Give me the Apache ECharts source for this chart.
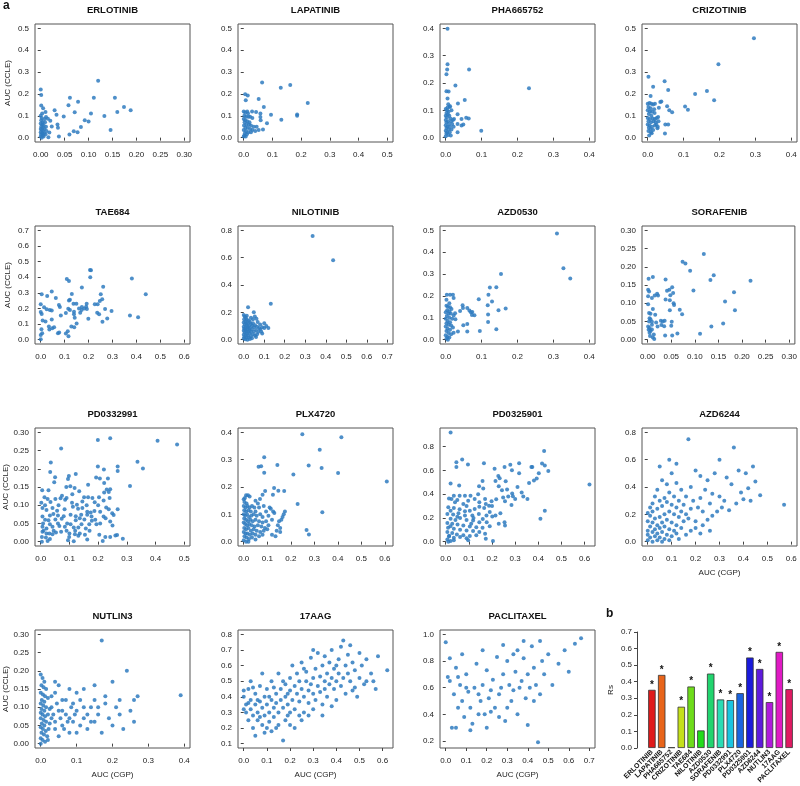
<!DOCTYPE html>
<html><head><meta charset="utf-8">
<script src="https://cdn.jsdelivr.net/npm/echarts@6/dist/echarts.min.js"></script>
<style>html,body{margin:0;padding:0;background:#fff}#c{width:800px;height:786px}</style>
</head><body><div id="c"></div>
<script>
// ---------------- DATA ----------------
const drugNames = ['ERLOTINIB','LAPATINIB','PHA665752','CRIZOTINIB','TAE684','NILOTINIB','AZD0530','SORAFENIB','PD0332991','PLX4720','PD0325901','AZD6244','NUTLIN3','17AAG','PACLITAXEL'];

// Panel b: Spearman Rs per drug and significance
const rsValues = [0.351,0.441,0.004,0.249,0.371,0.106,0.449,0.293,0.289,0.331,0.546,0.477,0.277,0.580,0.355];
const rsSignificant = [1,1,0,1,1,0,1,1,1,1,1,1,1,1,1];

// tick label sets
const ticks030 = [0,0.05,0.10,0.15,0.20,0.25,0.30];
const ticks04 = [0,0.1,0.2,0.3,0.4];
const ticks05 = [0,0.1,0.2,0.3,0.4,0.5];
const ticks06 = [0,0.1,0.2,0.3,0.4,0.5,0.6];
const ticks07 = [0,0.1,0.2,0.3,0.4,0.5,0.6,0.7];
const ticks08 = [0,0.2,0.4,0.6,0.8];
const ticks17aagY = [0.1,0.2,0.3,0.4,0.5,0.6,0.7,0.8];
const ticksPacY = [0.2,0.4,0.6,0.8,1.0];
const ticksRs = [0,0.1,0.2,0.3,0.4,0.5,0.6,0.7];

// Panel a: [AUC (CGP), AUC (CCLE)] pairs
const erlotinib = [[0,0.22],[0.001,0.195],[0.12,0.26],[0.061,0.182],[0.078,0.164],[0.111,0.182],[0.155,0.182],[0.174,0.14],[0.188,0.125],[0.16,0.117],[0.058,0.148],[0.029,0.125],[0.033,0.105],[0.048,0.097],[0.071,0.116],[0.105,0.11],[0.133,0.099],[0.01,0.117],[0.011,0.094],[0.015,0.086],[0.02,0.077],[0.023,0.051],[0.035,0.06],[0.036,0.045],[0.092,0.079],[0.1,0.074],[0.084,0.049],[0.069,0.029],[0.077,0.025],[0.06,0.014],[0.038,0.005],[0.146,0.035],[0.018,0.023],[0.016,0.002],
[0.0,0.10],[0.002,0.09],[0.001,0.08],[0.004,0.07],[0.0,0.065],[0.003,0.06],[0.006,0.055],[0.001,0.05],[0.004,0.045],[0.0,0.04],[0.008,0.04],[0.002,0.035],[0.005,0.03],[0.0,0.025],[0.003,0.02],[0.007,0.02],[0.001,0.015],[0.004,0.01],[0.0,0.005],[0.006,0.005],[0.002,0.0],[0.009,0.07],[0.011,0.05],[0.008,0.085],[0.012,0.03],[0.01,0.015],[0.003,0.11],[0.005,0.135],[0.001,0.147]];

const lapatinib = [[0.064,0.252],[0.129,0.228],[0.162,0.241],[0.005,0.199],[0.014,0.193],[0.007,0.171],[0.052,0.177],[0.223,0.159],[0.07,0.14],[0.186,0.106],[0.186,0.1],[0.095,0.105],[0.131,0.082],[0.081,0.066],[0.052,0.035],[0.067,0.037],[0.058,0.11],[0.058,0.094],[0.043,0.117],[0.029,0.12],[0.059,0.08],
[0.0,0.12],[0.005,0.115],[0.012,0.12],[0.015,0.11],[0.002,0.1],[0.008,0.095],[0.016,0.095],[0.022,0.095],[0.03,0.09],[0.0,0.085],[0.005,0.08],[0.012,0.075],[0.02,0.07],[0.003,0.07],[0.009,0.06],[0.018,0.06],[0.025,0.055],[0.035,0.05],[0.001,0.055],[0.006,0.045],[0.014,0.045],[0.022,0.04],[0.03,0.035],[0.0,0.035],[0.008,0.03],[0.016,0.025],[0.025,0.025],[0.004,0.02],[0.011,0.015],[0.002,0.01],[0.0,0.005],[0.007,0.005],[0.04,0.03],[0.045,0.05]];

const pha665752 = [[0.005,0.399],[0.005,0.269],[0.004,0.249],[0.002,0.232],[0.065,0.249],[0.232,0.181],[0.027,0.191],[0.002,0.17],[0.008,0.169],[0.053,0.138],[0.034,0.125],[0.033,0.086],[0.057,0.073],[0.064,0.07],[0.044,0.068],[0.023,0.068],[0.033,0.05],[0.044,0.044],[0.049,0.048],[0.033,0.02],[0.099,0.025],[0.016,0.1],[0.011,0.112],[0.007,0.122],[0.005,0.143],
[0.0,0.105],[0.004,0.1],[0.008,0.095],[0.002,0.09],[0.006,0.085],[0.0,0.08],[0.01,0.08],[0.003,0.075],[0.013,0.07],[0.0,0.065],[0.006,0.06],[0.015,0.06],[0.002,0.055],[0.009,0.05],[0.018,0.05],[0.0,0.045],[0.005,0.04],[0.012,0.04],[0.002,0.035],[0.008,0.03],[0.016,0.03],[0.0,0.025],[0.004,0.02],[0.011,0.02],[0.002,0.015],[0.007,0.01],[0.0,0.005],[0.014,0.008],[0.02,0.065],[0.022,0.04],[0.005,0.11],[0.012,0.115]];

const crizotinib = [[0.296,0.455],[0.197,0.336],[0.002,0.279],[0.047,0.258],[0.015,0.233],[0.057,0.218],[0.165,0.213],[0.132,0.2],[0.185,0.171],[0.038,0.165],[0.035,0.163],[0.008,0.19],[0.104,0.142],[0.112,0.128],[0.054,0.144],[0.06,0.125],[0.068,0.116],[0.031,0.137],[0.029,0.094],[0.019,0.113],[0.049,0.06],[0.057,0.06],[0.048,0.019],[0.027,0.043],
[0.0,0.155],[0.005,0.158],[0.01,0.155],[0.015,0.152],[0.02,0.155],[0.002,0.14],[0.008,0.135],[0.0,0.125],[0.006,0.12],[0.012,0.118],[0.018,0.13],[0.003,0.108],[0.01,0.1],[0.0,0.09],[0.006,0.085],[0.014,0.088],[0.02,0.085],[0.025,0.09],[0.002,0.075],[0.009,0.07],[0.016,0.075],[0.022,0.07],[0.03,0.075],[0.0,0.06],[0.005,0.055],[0.012,0.05],[0.02,0.055],[0.003,0.045],[0.008,0.04],[0.015,0.035],[0.002,0.03],[0.009,0.025],[0.004,0.01],[0.011,0.02],[0.024,0.06],[0.028,0.05]];

const tae684 = [[0.206,0.446],[0.21,0.444],[0.207,0.4],[0.109,0.388],[0.118,0.375],[0.381,0.392],[0.172,0.334],[0.261,0.338],[0.046,0.308],[0.004,0.291],[0.027,0.28],[0.063,0.267],[0.439,0.291],[0.251,0.291],[0.13,0.293],[0.118,0.25],[0.122,0.256],[0.137,0.23],[0.149,0.23],[0.192,0.23],[0.226,0.226],[0.247,0.248],[0.257,0.258],[0.238,0.226],[0.076,0.222],[0.08,0.209],[0.0,0.226],[0.014,0.207],[0.025,0.194],[0.038,0.19],[0.046,0.187],[0.0,0.177],[0.004,0.164],[0.115,0.198],[0.122,0.19],[0.139,0.179],[0.139,0.162],[0.171,0.19],[0.182,0.2],[0.193,0.196],[0.165,0.172],[0.172,0.209],[0.105,0.17],[0.084,0.155],[0.236,0.172],[0.244,0.162],[0.269,0.196],[0.296,0.183],[0.199,0.134],[0.278,0.136],[0.258,0.114],[0.373,0.155],[0.407,0.144],[0.046,0.129],[0.008,0.123],[0.02,0.116],[0.142,0.14],[0.034,0.084],[0.048,0.073],[0.056,0.08],[0.036,0.065],[0.003,0.067],[0.128,0.084],[0.14,0.08],[0.15,0.103],[0.072,0.041],[0.077,0.045],[0.105,0.039],[0.116,0.022],[0.0,0.03],[0.006,0.041],[0.0,0.002],[0.113,0.054],[0.19,0.21],[0.16,0.2]];

const nilotinib = [[0.336,0.758],[0.436,0.582],[0.132,0.262],[0.021,0.237],[0.049,0.2],
[0.0,0.18],[0.005,0.17],[0.01,0.16],[0.002,0.15],[0.015,0.145],[0.025,0.14],[0.008,0.135],[0.03,0.13],[0.0,0.125],[0.012,0.12],[0.02,0.12],[0.035,0.115],[0.045,0.12],[0.005,0.11],[0.015,0.105],[0.025,0.1],[0.04,0.1],[0.055,0.105],[0.0,0.095],[0.01,0.09],[0.02,0.09],[0.03,0.085],[0.05,0.09],[0.065,0.095],[0.075,0.085],[0.09,0.09],[0.1,0.085],[0.002,0.08],[0.008,0.075],[0.018,0.075],[0.028,0.07],[0.04,0.075],[0.06,0.07],[0.08,0.075],[0.0,0.065],[0.012,0.06],[0.022,0.06],[0.035,0.055],[0.05,0.06],[0.07,0.055],[0.005,0.05],[0.015,0.045],[0.028,0.045],[0.045,0.04],[0.065,0.04],[0.0,0.035],[0.01,0.03],[0.02,0.03],[0.035,0.025],[0.055,0.03],[0.003,0.02],[0.012,0.015],[0.025,0.015],[0.04,0.01],[0.0,0.008],[0.008,0.003],[0.018,0.0],[0.03,0.005],[0.06,0.02],[0.085,0.06],[0.1,0.12],[0.054,0.169],[0.062,0.152],[0.068,0.13],[0.045,0.15],[0.035,0.16],[0.015,0.175],[0.11,0.1],[0.12,0.085],[0.08,0.11],[0.09,0.045]];

const azd0530 = [[0.31,0.486],[0.328,0.327],[0.347,0.28],[0.154,0.3],[0.123,0.239],[0.141,0.24],[0.119,0.205],[0.129,0.174],[0.092,0.185],[0.117,0.157],[0.167,0.142],[0.147,0.135],[0.118,0.115],[0.118,0.081],[0.141,0.047],[0.095,0.04],[0.047,0.157],[0.048,0.145],[0.06,0.145],[0.066,0.133],[0.07,0.125],[0.074,0.127],[0.073,0.113],[0.08,0.112],[0.04,0.131],[0.026,0.121],[0.027,0.093],[0.049,0.066],[0.06,0.072],[0.06,0.037],[0.034,0.037],[0.022,0.032],[0.003,0.205],[0.012,0.205],[0.02,0.205],[0.022,0.191],[0.002,0.182],[0.01,0.167],
[0.002,0.155],[0.006,0.15],[0.012,0.148],[0.016,0.14],[0.004,0.135],[0.01,0.13],[0.0,0.125],[0.008,0.118],[0.014,0.12],[0.003,0.108],[0.01,0.1],[0.018,0.095],[0.0,0.095],[0.005,0.085],[0.012,0.08],[0.002,0.075],[0.008,0.068],[0.015,0.065],[0.0,0.06],[0.005,0.05],[0.012,0.045],[0.002,0.04],[0.008,0.03],[0.015,0.025],[0.0,0.02],[0.005,0.012],[0.01,0.01],[0.002,0.005],[0.006,0.0],[0.02,0.055],[0.022,0.11]];

const sorafenib = [[0.119,0.235],[0.074,0.214],[0.08,0.209],[0.09,0.189],[0.14,0.177],[0.133,0.164],[0.218,0.162],[0.002,0.167],[0.011,0.172],[0.038,0.165],[0.097,0.135],[0.052,0.144],[0.183,0.13],[0.164,0.105],[0.185,0.081],[0.16,0.044],[0.135,0.036],[0.111,0.016],[0.063,0.017],[0.052,0.011],[0.037,0.011],[0.001,0.137],[0.003,0.132],[0.001,0.119],[0.009,0.114],[0.015,0.121],[0.02,0.126],[0.022,0.121],[0.001,0.097],[0.038,0.11],[0.047,0.108],[0.041,0.134],[0.046,0.137],[0.054,0.128],[0.048,0.122],[0.055,0.1],[0.056,0.095],[0.047,0.081],[0.068,0.082],[0.073,0.07],[0.011,0.084],[0.003,0.073],[0.006,0.071],[0.004,0.059],[0.006,0.056],[0.016,0.068],[0.003,0.05],[0.009,0.049],[0.001,0.036],[0.009,0.041],[0.002,0.027],[0.006,0.024],[0.004,0.019],[0.009,0.028],[0.018,0.047],[0.021,0.036],[0.028,0.052],[0.032,0.05],[0.036,0.052],[0.029,0.04],[0.035,0.037],[0.051,0.049],[0.05,0.038],[0.005,0.01],[0.011,0.006],[0.014,0.002],[0.013,0.014],[0.004,0.032]];

const pd0332991 = [[0.199,0.279],[0.242,0.284],[0.407,0.277],[0.475,0.267],[0.071,0.256],[0.337,0.219],[0.356,0.201],[0.035,0.217],[0.199,0.206],[0.22,0.198],[0.268,0.206],[0.268,0.194],[0.033,0.191],[0.05,0.177],[0.098,0.18],[0.095,0.172],[0.122,0.186],[0.193,0.176],[0.206,0.173],[0.234,0.173],[0.047,0.163],[0.221,0.161],[0.311,0.153],[0.165,0.156],[0.005,0.141],[0.027,0.141],[0.089,0.15],[0.103,0.152],[0.118,0.147],[0.134,0.138],[0.23,0.143],[0.242,0.144],[0.237,0.136],[0.221,0.135],[0.151,0.122],[0.165,0.122],[0.203,0.122],[0.013,0.122],[0.024,0.117],[0.051,0.117],[0.069,0.119],[0.074,0.126],[0.085,0.115],[0.002,0.107],[0.034,0.109],[0.109,0.107],[0.126,0.101],[0.112,0.096],[0.188,0.108],[0.219,0.113],[0.228,0.094],[0.237,0.089],[0.268,0.089],[0.006,0.092],[0.041,0.092],[0.02,0.087],[0.057,0.085],[0.083,0.089],[0.145,0.092],[0.162,0.082],[0.174,0.08],[0.187,0.084],[0.006,0.069],[0.032,0.072],[0.044,0.076],[0.06,0.072],[0.104,0.074],[0.122,0.07],[0.141,0.074],[0.162,0.074],[0.177,0.069],[0.249,0.078],[0.254,0.073],[0.219,0.069],[0.207,0.082],[0.027,0.059],[0.051,0.061],[0.073,0.063],[0.122,0.059],[0.136,0.064],[0.152,0.061],[0.178,0.057],[0.226,0.064],[0.242,0.055],[0.008,0.05],[0.032,0.048],[0.065,0.043],[0.092,0.05],[0.104,0.048],[0.142,0.048],[0.169,0.048],[0.194,0.048],[0.207,0.05],[0.25,0.044],[0.006,0.041],[0.02,0.036],[0.041,0.041],[0.084,0.041],[0.115,0.039],[0.131,0.039],[0.157,0.036],[0.006,0.027],[0.02,0.022],[0.03,0.022],[0.041,0.02],[0.053,0.025],[0.071,0.027],[0.1,0.022],[0.119,0.02],[0.136,0.022],[0.154,0.019],[0.204,0.019],[0.225,0.013],[0.242,0.013],[0.26,0.017],[0.266,0.018],[0.286,0.008],[0.004,0.013],[0.018,0.011],[0.032,0.007],[0.095,0.004],[0.115,0.001],[0.162,0.006],[0.216,0.002],[0.004,0.0],[0.024,0.002],[0.099,0.013],[0.131,0.016],[0.015,0.06],[0.045,0.03],[0.062,0.1],[0.09,0.12],[0.11,0.13],[0.13,0.09],[0.145,0.11],[0.16,0.1],[0.18,0.12],[0.2,0.1],[0.015,0.1],[0.01,0.03],[0.06,0.05],[0.08,0.07],[0.09,0.03],[0.12,0.03],[0.17,0.03],[0.19,0.06],[0.24,0.12]];

const plx4720 = [[0.249,0.393],[0.415,0.382],[0.323,0.336],[0.087,0.309],[0.063,0.274],[0.074,0.276],[0.143,0.281],[0.276,0.279],[0.331,0.27],[0.087,0.252],[0.211,0.246],[0.401,0.251],[0.608,0.22],[0.129,0.196],[0.147,0.186],[0.172,0.185],[0.091,0.185],[0.08,0.172],[0.069,0.156],[0.124,0.172],[0.229,0.138],[0.334,0.108],[0.267,0.043],[0.277,0.026],
[0.0,0.155],[0.005,0.16],[0.01,0.17],[0.018,0.17],[0.025,0.165],[0.003,0.145],[0.012,0.14],[0.0,0.13],[0.008,0.125],[0.016,0.13],[0.025,0.125],[0.035,0.13],[0.045,0.125],[0.002,0.115],[0.01,0.11],[0.02,0.115],[0.03,0.11],[0.05,0.11],[0.065,0.125],[0.0,0.1],[0.006,0.095],[0.014,0.1],[0.022,0.09],[0.032,0.095],[0.042,0.1],[0.055,0.095],[0.07,0.1],[0.08,0.09],[0.002,0.085],[0.01,0.08],[0.018,0.075],[0.028,0.08],[0.038,0.075],[0.05,0.08],[0.065,0.075],[0.08,0.07],[0.095,0.075],[0.0,0.07],[0.006,0.065],[0.014,0.06],[0.024,0.065],[0.034,0.06],[0.046,0.055],[0.06,0.06],[0.075,0.055],[0.09,0.05],[0.105,0.06],[0.002,0.05],[0.01,0.045],[0.02,0.05],[0.03,0.04],[0.042,0.045],[0.055,0.04],[0.07,0.035],[0.085,0.04],[0.1,0.045],[0.0,0.035],[0.008,0.03],[0.016,0.03],[0.026,0.025],[0.038,0.03],[0.05,0.025],[0.065,0.02],[0.08,0.025],[0.003,0.02],[0.012,0.015],[0.022,0.01],[0.035,0.015],[0.05,0.008],[0.0,0.005],[0.01,0.0],[0.02,0.0],
[0.11,0.125],[0.115,0.12],[0.125,0.11],[0.13,0.105],[0.145,0.06],[0.15,0.075],[0.155,0.05],[0.16,0.08],[0.165,0.09],[0.17,0.1],[0.175,0.11],[0.14,0.04],[0.12,0.025],[0.135,0.02],[0.155,0.035],[0.12,0.08],[0.105,0.095],[0.095,0.11],[0.085,0.13],[0.06,0.14],[0.05,0.15]];

const pd0325901 = [[0.021,0.919],[0.425,0.764],[0.071,0.692],[0.046,0.669],[0.096,0.65],[0.165,0.661],[0.046,0.628],[0.211,0.614],[0.254,0.628],[0.279,0.647],[0.317,0.661],[0.286,0.6],[0.317,0.575],[0.37,0.628],[0.374,0.628],[0.416,0.658],[0.428,0.642],[0.443,0.594],[0.402,0.575],[0.393,0.531],[0.381,0.514],[0.36,0.494],[0.621,0.481],[0.021,0.489],[0.058,0.472],[0.227,0.553],[0.233,0.533],[0.215,0.511],[0.159,0.511],[0.259,0.508],[0.144,0.467],[0.162,0.447],[0.229,0.467],[0.243,0.433],[0.265,0.439],[0.287,0.406],[0.328,0.414],[0.335,0.381],[0.29,0.383],[0.353,0.358],[0.248,0.372],[0.218,0.356],[0.198,0.339],[0.409,0.192],[0.428,0.261],[0.284,0.308],[0.256,0.339],[0.083,0.386],[0.107,0.386],[0.125,0.358],[0.06,0.386],[0.035,0.386],[0.014,0.364],[0.025,0.358],[0.04,0.331],[0.076,0.317],[0.097,0.344],[0.145,0.331],[0.173,0.317],[0.187,0.303],[0.166,0.283],[0.145,0.294],[0.125,0.275],[0.104,0.261],[0.083,0.256],[0.06,0.272],[0.035,0.283],[0.011,0.289],[0.021,0.261],[0.007,0.233],[0.032,0.228],[0.055,0.239],[0.083,0.219],[0.115,0.219],[0.143,0.233],[0.176,0.219],[0.201,0.211],[0.215,0.219],[0.236,0.239],[0.021,0.192],[0.042,0.183],[0.062,0.2],[0.09,0.183],[0.118,0.178],[0.145,0.164],[0.177,0.164],[0.229,0.15],[0.254,0.164],[0.256,0.136],[0.007,0.156],[0.028,0.15],[0.051,0.144],[0.076,0.136],[0.104,0.128],[0.132,0.122],[0.159,0.117],[0.01,0.117],[0.035,0.108],[0.062,0.1],[0.09,0.094],[0.118,0.089],[0.145,0.081],[0.17,0.067],[0.007,0.081],[0.028,0.072],[0.048,0.061],[0.076,0.053],[0.104,0.047],[0.132,0.053],[0.014,0.044],[0.035,0.033],[0.062,0.039],[0.09,0.028],[0.007,0.017],[0.021,0.006],[0.035,0.011],[0.097,0.011],[0.204,0.006],[0.011,0.0],[0.173,0.025],[0.12,0.2],[0.19,0.25],[0.2,0.3],[0.17,0.36],[0.27,0.38],[0.31,0.46],[0.3,0.36],[0.14,0.4],[0.05,0.35],[0.09,0.3],[0.11,0.15],[0.16,0.19],[0.19,0.13],[0.02,0.13],[0.05,0.21],[0.015,0.05]];

const azd6244 = [[0.17,0.75],[0.36,0.69],[0.3,0.6],[0.44,0.55],[0.41,0.5],[0.38,0.52],[0.33,0.47],[0.35,0.42],[0.45,0.44],[0.42,0.39],[0.57,0.27],[0.47,0.34],[0.28,0.5],[0.25,0.45],[0.22,0.48],[0.2,0.52],[0.18,0.4],[0.24,0.38],[0.27,0.35],[0.3,0.33],[0.32,0.3],[0.26,0.28],[0.22,0.32],[0.19,0.3],[0.16,0.33],[0.14,0.38],[0.12,0.43],[0.1,0.5],[0.08,0.42],[0.06,0.45],[0.04,0.38],[0.21,0.25],[0.23,0.22],[0.18,0.24],[0.15,0.27],[0.13,0.3],[0.11,0.33],[0.09,0.36],[0.07,0.32],[0.05,0.3],[0.03,0.33],[0.02,0.28],[0.16,0.2],[0.14,0.22],[0.12,0.25],[0.1,0.27],[0.08,0.29],[0.06,0.26],[0.04,0.24],[0.02,0.22],[0.01,0.25],[0.2,0.15],[0.17,0.17],[0.15,0.15],[0.13,0.18],[0.11,0.2],[0.09,0.22],[0.07,0.2],[0.05,0.18],[0.03,0.17],[0.01,0.19],[0.0,0.21],[0.14,0.1],[0.12,0.12],[0.1,0.14],[0.08,0.16],[0.06,0.14],[0.04,0.12],[0.02,0.14],[0.0,0.15],[0.01,0.11],[0.03,0.09],[0.05,0.1],[0.07,0.11],[0.09,0.09],[0.11,0.08],[0.0,0.08],[0.02,0.07],[0.04,0.06],[0.06,0.07],[0.08,0.05],[0.1,0.04],[0.12,0.06],[0.0,0.05],[0.01,0.03],[0.03,0.04],[0.05,0.03],[0.07,0.02],[0.09,0.01],[0.0,0.01],[0.02,0.0],[0.04,0.01],[0.06,0.0],[0.13,0.02],[0.16,0.05],[0.18,0.08],[0.2,0.1],[0.23,0.12],[0.25,0.16],[0.27,0.19],[0.29,0.22],[0.31,0.25],[0.34,0.23],[0.37,0.28],[0.4,0.31],[0.43,0.3],[0.39,0.36],[0.26,0.08],[0.22,0.06],[0.05,0.55],[0.09,0.6],[0.12,0.57]];

const nutlin3 = [[0.17,0.283],[0.24,0.2],[0.39,0.133],[0.27,0.13],[0.26,0.12],[0.2,0.17],[0.15,0.16],[0.12,0.15],[0.1,0.14],[0.08,0.15],[0.06,0.12],[0.05,0.16],[0.04,0.14],[0.03,0.1],
[0.0,0.19],[0.005,0.18],[0.01,0.17],[0.002,0.16],[0.008,0.155],[0.015,0.15],[0.0,0.14],[0.006,0.135],[0.012,0.13],[0.02,0.125],[0.003,0.12],[0.01,0.115],[0.0,0.11],[0.007,0.105],[0.015,0.1],[0.025,0.095],[0.002,0.095],[0.01,0.09],[0.0,0.085],[0.005,0.08],[0.012,0.075],[0.02,0.08],[0.03,0.07],[0.0,0.07],[0.008,0.065],[0.015,0.06],[0.025,0.055],[0.003,0.055],[0.01,0.05],[0.0,0.045],[0.006,0.04],[0.014,0.035],[0.022,0.04],[0.002,0.03],[0.009,0.025],[0.018,0.02],[0.0,0.015],[0.005,0.01],[0.012,0.005],[0.0,0.0],[0.02,0.01],
[0.04,0.06],[0.05,0.09],[0.06,0.05],[0.07,0.08],[0.08,0.03],[0.09,0.06],[0.1,0.09],[0.11,0.05],[0.12,0.07],[0.13,0.04],[0.14,0.1],[0.15,0.06],[0.16,0.08],[0.17,0.03],[0.18,0.11],[0.19,0.07],[0.2,0.05],[0.21,0.1],[0.22,0.08],[0.23,0.04],[0.25,0.09],[0.26,0.06],[0.05,0.02],[0.07,0.12],[0.09,0.11],[0.11,0.12],[0.13,0.08],[0.15,0.12],[0.04,0.04],[0.06,0.09],[0.08,0.07],[0.1,0.03],[0.12,0.1],[0.14,0.06],[0.035,0.08],[0.045,0.11],[0.055,0.07],[0.065,0.04],[0.075,0.06],[0.085,0.1],[0.095,0.08],[0.03,0.13],[0.04,0.17],[0.18,0.13],[0.22,0.12],[0.16,0.1]];

const aag17 = [[0.0,0.44],[0.0,0.4],[0.01,0.35],[0.01,0.3],[0.02,0.25],[0.02,0.45],[0.03,0.38],[0.03,0.32],[0.04,0.28],[0.04,0.2],[0.05,0.42],[0.05,0.35],[0.06,0.3],[0.06,0.25],[0.07,0.47],[0.07,0.37],[0.08,0.33],[0.08,0.22],[0.09,0.4],[0.09,0.28],[0.1,0.35],[0.1,0.45],[0.11,0.3],[0.11,0.24],[0.12,0.5],[0.12,0.38],[0.13,0.33],[0.13,0.27],[0.14,0.42],[0.14,0.36],[0.15,0.3],[0.15,0.55],[0.16,0.45],[0.16,0.38],[0.17,0.12],[0.17,0.33],[0.18,0.48],[0.18,0.4],[0.19,0.35],[0.19,0.28],[0.2,0.52],[0.2,0.44],[0.21,0.38],[0.21,0.6],[0.22,0.47],[0.22,0.32],[0.23,0.42],[0.23,0.55],[0.24,0.37],[0.24,0.5],[0.25,0.45],[0.25,0.62],[0.26,0.4],[0.26,0.3],[0.27,0.5],[0.27,0.56],[0.28,0.44],[0.28,0.36],[0.29,0.48],[0.29,0.65],[0.3,0.42],[0.3,0.52],[0.31,0.58],[0.31,0.38],[0.32,0.47],[0.32,0.68],[0.33,0.53],[0.33,0.43],[0.34,0.6],[0.34,0.35],[0.35,0.5],[0.35,0.45],[0.36,0.55],[0.36,0.4],[0.37,0.62],[0.37,0.48],[0.38,0.52],[0.38,0.7],[0.39,0.45],[0.39,0.58],[0.4,0.5],[0.4,0.38],[0.41,0.64],[0.41,0.55],[0.42,0.47],[0.42,0.72],[0.43,0.76],[0.43,0.52],[0.44,0.6],[0.44,0.42],[0.45,0.55],[0.46,0.73],[0.46,0.5],[0.47,0.62],[0.48,0.46],[0.48,0.57],[0.5,0.68],[0.5,0.52],[0.51,0.6],[0.52,0.48],[0.53,0.64],[0.55,0.55],[0.56,0.5],[0.58,0.66],[0.62,0.57],[0.03,0.5],[0.05,0.15],[0.08,0.55],[0.1,0.2],[0.12,0.18],[0.14,0.2],[0.18,0.25],[0.2,0.22],[0.22,0.2],[0.25,0.25],[0.28,0.28],[0.2,0.3],[0.15,0.22],[0.09,0.17],[0.06,0.38],[0.04,0.46],[0.02,0.36],[0.0,0.32],[0.07,0.27],[0.11,0.4],[0.13,0.46],[0.17,0.5],[0.19,0.42],[0.24,0.28],[0.26,0.58],[0.3,0.7],[0.35,0.66],[0.4,0.6],[0.45,0.67],[0.47,0.44],[0.49,0.4],[0.53,0.5],[0.57,0.45],[0.34,0.28],[0.3,0.32],[0.38,0.34]];

const paclitaxel = [[0.0,0.94],[0.01,0.68],[0.02,0.65],[0.03,0.3],[0.05,0.3],[0.04,0.55],[0.06,0.45],[0.07,0.62],[0.08,0.5],[0.09,0.38],[0.1,0.7],[0.11,0.57],[0.12,0.45],[0.13,0.33],[0.14,0.6],[0.15,0.78],[0.16,0.55],[0.17,0.5],[0.18,0.62],[0.19,0.4],[0.2,0.73],[0.21,0.52],[0.22,0.58],[0.23,0.66],[0.24,0.45],[0.25,0.83],[0.26,0.55],[0.27,0.6],[0.28,0.7],[0.29,0.35],[0.3,0.8],[0.31,0.62],[0.32,0.5],[0.33,0.58],[0.34,0.72],[0.35,0.88],[0.36,0.6],[0.37,0.65],[0.38,0.82],[0.39,0.52],[0.4,0.7],[0.41,0.6],[0.42,0.91],[0.43,0.75],[0.44,0.62],[0.45,0.19],[0.46,0.55],[0.47,0.8],[0.48,0.7],[0.5,0.85],[0.52,0.62],[0.55,0.78],[0.58,0.88],[0.6,0.72],[0.63,0.93],[0.66,0.97],[0.02,0.82],[0.05,0.75],[0.08,0.85],[0.12,0.28],[0.16,0.4],[0.2,0.3],[0.26,0.38],[0.3,0.45],[0.35,0.4],[0.4,0.32],[0.43,0.5],[0.1,0.6],[0.06,0.68],[0.18,0.88],[0.28,0.92],[0.38,0.95],[0.22,0.42],[0.33,0.85],[0.46,0.95]];

// ---------------- CONFIG ----------------
const FONT = '"Liberation Sans", Arial, Helvetica, sans-serif';
const panels = [
  {name:'ERLOTINIB',  data:erlotinib,  xr:[0,0.30], yr:[0,0.50], xt:ticks030, yt:ticks05},
  {name:'LAPATINIB',  data:lapatinib,  xr:[0,0.50], yr:[0,0.50], xt:ticks05, yt:ticks05},
  {name:'PHA665752',  data:pha665752,  xr:[0,0.40], yr:[0,0.40], xt:ticks04, yt:ticks04},
  {name:'CRIZOTINIB', data:crizotinib, xr:[0,0.40], yr:[0,0.50], xt:ticks04, yt:ticks05},
  {name:'TAE684',     data:tae684,     xr:[0,0.60], yr:[0,0.70], xt:ticks06, yt:ticks07},
  {name:'NILOTINIB',  data:nilotinib,  xr:[0,0.70], yr:[0,0.80], xt:ticks07, yt:ticks08},
  {name:'AZD0530',    data:azd0530,    xr:[0,0.40], yr:[0,0.50], xt:ticks04, yt:ticks05},
  {name:'SORAFENIB',  data:sorafenib,  xr:[0,0.30], yr:[0,0.30], xt:ticks030, yt:ticks030},
  {name:'PD0332991',  data:pd0332991,  xr:[0,0.50], yr:[0,0.30], xt:ticks05, yt:ticks030},
  {name:'PLX4720',    data:plx4720,    xr:[0,0.61], yr:[0,0.40], xt:ticks06, yt:ticks04},
  {name:'PD0325901',  data:pd0325901,  xr:[0,0.62], yr:[0,0.92], xt:ticks06, yt:ticks08},
  {name:'AZD6244',    data:azd6244,    xr:[0,0.60], yr:[0,0.80], xt:ticks06, yt:ticks08, xname:true},
  {name:'NUTLIN3',    data:nutlin3,    xr:[0,0.40], yr:[0,0.30], xt:ticks04, yt:ticks030, xname:true},
  {name:'17AAG',      data:aag17,      xr:[0,0.62], yr:[0.1,0.80], xt:ticks06, yt:ticks17aagY, xname:true},
  {name:'PACLITAXEL', data:paclitaxel, xr:[0,0.70], yr:[0.18,1.0], xt:ticks07, yt:ticksPacY, xname:true}
];
const barColors = ['#E01A1A','#E8641A','#E0C41A','#C4E01A','#6EDC1A','#22DC1A','#22D46E','#2ADCB4','#1AC4E0','#1A64E0','#1A1ADC','#5E1ADC','#B01ADC','#E01AC4','#E01A62'];

const colLeft = [35, 238, 440, 642];
const rowTop = [24, 226, 428, 630];
const W = 155, H = 118;

function decimals(ticks){ return ticks.some(v => Math.abs(v*10 - Math.round(v*10)) > 1e-9) ? 2 : 1; }
function pad(r){ const s = r[1]-r[0]; return [r[0]-0.04*s, r[1]+0.04*s]; }

const grids=[], xAxes=[], yAxes=[], series=[], titles=[];
const labelStyle = {fontSize:8, color:'#222', fontFamily:FONT};
panels.forEach((p,i)=>{
  const row = Math.floor(i/4), col = i%4;
  const L = colLeft[col], T = rowTop[row];
  grids.push({left:L, top:T, width:W, height:H, show:true, borderColor:'#555', borderWidth:1, backgroundColor:'transparent'});
  const xr = pad(p.xr), yr = pad(p.yr);
  const xd = decimals(p.xt), yd = decimals(p.yt);
  xAxes.push({gridIndex:i, type:'value', min:xr[0], max:xr[1], splitLine:{show:false},
    axisLine:{show:false}, axisTick:{show:true, length:3, customValues:p.xt, lineStyle:{color:'#444', width:1}},
    axisLabel:Object.assign({customValues:p.xt, margin:9, formatter:v=>v.toFixed(xd)}, labelStyle),
    name: p.xname ? 'AUC (CGP)' : '', nameLocation:'middle', nameGap:23, nameTextStyle:{fontSize:8, color:'#222', fontFamily:FONT}});
  yAxes.push({gridIndex:i, type:'value', min:yr[0], max:yr[1], splitLine:{show:false},
    axisLine:{show:false}, axisTick:{show:true, length:3, customValues:p.yt, lineStyle:{color:'#444', width:1}},
    axisLabel:Object.assign({customValues:p.yt, margin:6, formatter:v=>v.toFixed(yd)}, labelStyle),
    name: col===0 ? 'AUC (CCLE)' : '', nameLocation:'middle', nameGap:23, nameTextStyle:{fontSize:8, color:'#222', fontFamily:FONT}});
  series.push({type:'scatter', xAxisIndex:i, yAxisIndex:i, data:p.data, symbolSize:4, silent:true,
    itemStyle:{color:'#2f7bbf', opacity:0.85}});
  titles.push({text:p.name, left:L+W/2, top:T-19, textAlign:'center', padding:0,
    textStyle:{fontSize:9.5, fontWeight:'bold', color:'#111', fontFamily:FONT}});
});

// Bar chart (panel b)
const bi = panels.length;
grids.push({left:647, top:632, width:147, height:116, show:false});
xAxes.push({gridIndex:bi, type:'category', data:drugNames, axisLine:{show:false}, axisTick:{show:false},
  axisLabel:{interval:0, rotate:45, fontSize:7, fontWeight:'bold', color:'#111', fontFamily:FONT, margin:3}});
yAxes.push({gridIndex:bi, type:'value', min:0, max:0.7, offset:10, splitLine:{show:false},
  axisLine:{show:true, lineStyle:{color:'#444'}}, axisTick:{show:true, length:3, customValues:ticksRs, lineStyle:{color:'#444'}},
  axisLabel:Object.assign({customValues:ticksRs, margin:5, formatter:v=>v.toFixed(1)}, labelStyle),
  name:'Rs', nameLocation:'middle', nameGap:22, nameTextStyle:{fontSize:8, color:'#222', fontFamily:FONT}});
series.push({type:'bar', xAxisIndex:bi, yAxisIndex:bi, barCategoryGap:'24%', silent:true,
  data: rsValues.map((v,k)=>({value:v, itemStyle:{color:barColors[k], borderColor:'#333', borderWidth:0.8},
    label:{show: rsSignificant[k]===1, position:'top', distance:0, formatter:'*', fontSize:10, fontWeight:'bold', color:'#111', fontFamily:FONT}}))});

titles.push({text:'a', left:3, top:0, padding:0, textStyle:{fontSize:12, fontWeight:'bold', color:'#111', fontFamily:FONT}});
titles.push({text:'b', left:606, top:608, padding:0, textStyle:{fontSize:12, fontWeight:'bold', color:'#111', fontFamily:FONT}});

const chart = echarts.init(document.getElementById('c'), null, {renderer:'canvas'});
chart.setOption({animation:false, backgroundColor:'#fff', title:titles, grid:grids, xAxis:xAxes, yAxis:yAxes, series:series});
</script>
</body></html>
